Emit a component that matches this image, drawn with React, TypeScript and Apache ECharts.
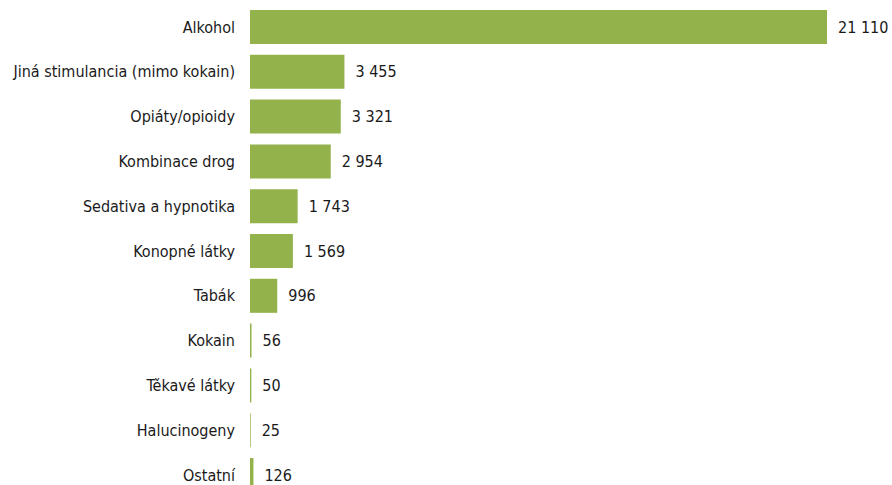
import React, { useEffect, useRef } from "react";
import * as echarts from "echarts";

const categories = [
  "Alkohol",
  "Jiná stimulancia (mimo kokain)",
  "Opiáty/opioidy",
  "Kombinace drog",
  "Sedativa a hypnotika",
  "Konopné látky",
  "Tabák",
  "Kokain",
  "Těkavé látky",
  "Halucinogeny",
  "Ostatní",
];
const values = [21110, 3455, 3321, 2954, 1743, 1569, 996, 56, 50, 25, 126];

const FONT = "'Liberation Sans Narrow', 'DejaVu Sans Condensed', 'Liberation Sans', sans-serif";

function fmt(v: number): string {
  return String(v).replace(/\B(?=(\d{3})+(?!\d))/g, " ");
}

export default function App() {
  const ref = useRef<HTMLDivElement>(null);
  useEffect(() => {
    if (!ref.current) return;
    const chart = echarts.init(ref.current, null, { renderer: "svg" });
    chart.setOption({
      animation: false,
      backgroundColor: "#ffffff",
      grid: {
        left: 250,
        top: 4.6,
        width: 577,
        height: 492.8,
        containLabel: false,
        outerBoundsMode: "none",
      },
      xAxis: {
        type: "value",
        min: 0,
        max: 21110,
        show: false,
      },
      yAxis: {
        type: "category",
        data: categories,
        inverse: true,
        axisLine: { show: false },
        axisTick: { show: false },
        axisLabel: { margin: 15, color: "#1a1a1a", fontSize: 16, fontFamily: FONT },
      },
      series: [
        {
          type: "bar",
          data: values,
          barCategoryGap: "24%",
          itemStyle: { color: "#93b24b" },
          label: {
            show: true,
            position: "right",
            distance: 11,
            color: "#1a1a1a",
            fontSize: 16,
            fontFamily: FONT,
            formatter: (p: any) => fmt(p.value),
          },
        },
      ],
    });
    return () => chart.dispose();
  }, []);
  return (
    <div
      ref={ref}
      style={{ position: "absolute", left: 0, top: 0, width: 892, height: 485 }}
    />
  );
}
